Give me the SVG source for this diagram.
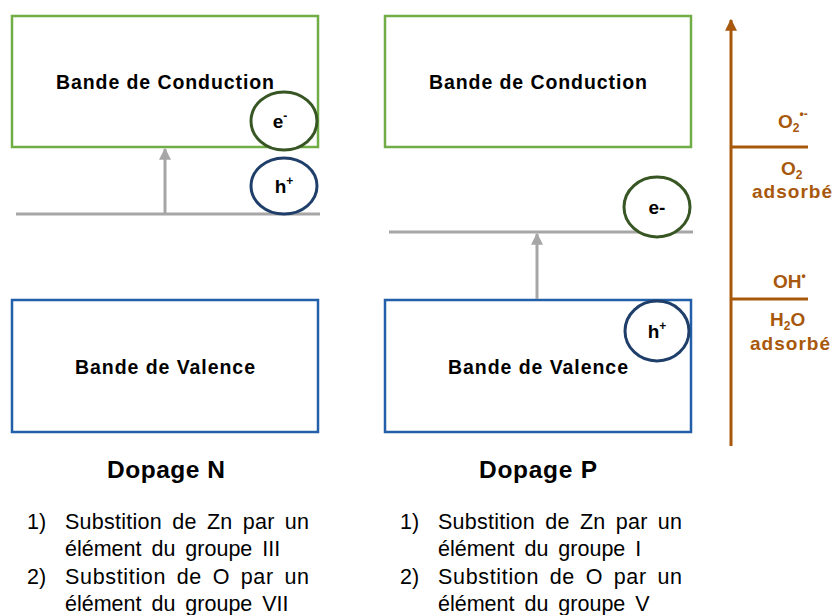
<svg xmlns="http://www.w3.org/2000/svg" width="834" height="615" viewBox="0 0 834 615">
<style>
text{font-family:"Liberation Sans",Arial,sans-serif;fill:#000}
.b{font-weight:bold}
.cb{fill:none;stroke:#70AD47;stroke-width:2.5}
.vb{fill:none;stroke:#2160A8;stroke-width:2.5}
.lvl{stroke:#A6A6A6;stroke-width:3;fill:none}
.ce{fill:#fff;stroke:#375623;stroke-width:3}
.ch{fill:#fff;stroke:#1F3F6A;stroke-width:3}
.or{fill:#A8580C}
.ax{stroke:#A8580C;stroke-width:3;fill:none}
.lst{font-size:21.5px;word-spacing:4px}
</style>
<defs>
<marker id="ag" viewBox="0 0 10 10" refX="9" refY="5" markerWidth="4" markerHeight="4" orient="auto"><path d="M0,0 L10,5 L0,10 z" fill="#A6A6A6"/></marker>
<marker id="ao" viewBox="0 0 10 10" refX="9" refY="5" markerWidth="4" markerHeight="4" orient="auto"><path d="M0,0 L10,5 L0,10 z" fill="#A8580C"/></marker>
</defs>
<g id="n-cb-left"><rect class="cb" x="12" y="16" width="306" height="131"/><text class="b" x="56" y="89" font-size="19.5" textLength="218" lengthAdjust="spacing">Bande de Conduction</text></g>
<g id="n-vb-left"><rect class="vb" x="12" y="300" width="306" height="132"/><text class="b" x="75" y="374" font-size="19.5" textLength="180" lengthAdjust="spacing">Bande de Valence</text></g>
<g id="n-cb-right"><rect class="cb" x="385" y="16" width="306" height="131"/><text class="b" x="429" y="89" font-size="19.5" textLength="218" lengthAdjust="spacing">Bande de Conduction</text></g>
<g id="n-vb-right"><rect class="vb" x="385" y="300" width="306" height="132"/><text class="b" x="448" y="374" font-size="19.5" textLength="180" lengthAdjust="spacing">Bande de Valence</text></g>
<g id="connectors">
<line class="lvl" x1="16" y1="214" x2="320" y2="214"/>
<line class="lvl" x1="165" y1="213" x2="165" y2="149" marker-end="url(#ag)"/>
<line class="lvl" x1="389" y1="232" x2="693" y2="232"/>
<line class="lvl" x1="537" y1="299" x2="537" y2="234" marker-end="url(#ag)"/>
</g>
<g id="n-e-left"><ellipse class="ce" cx="284" cy="121" rx="33" ry="29"/><text class="b" x="280" y="128" font-size="19" text-anchor="middle">e<tspan font-size="12" dy="-8">-</tspan></text></g>
<g id="n-h-left"><ellipse class="ch" cx="284" cy="186" rx="33" ry="28"/><text class="b" x="284" y="193" font-size="19" text-anchor="middle">h<tspan font-size="12" dy="-8">+</tspan></text></g>
<g id="n-e-right"><ellipse class="ce" cx="657" cy="207" rx="33" ry="30"/><text class="b" x="657" y="214" font-size="19" text-anchor="middle">e-</text></g>
<g id="n-h-right"><ellipse class="ch" cx="657" cy="331" rx="32" ry="30"/><text class="b" x="657" y="338" font-size="19" text-anchor="middle">h<tspan font-size="12" dy="-8">+</tspan></text></g>
<g id="n-axis">
<line class="ax" x1="731" y1="446" x2="731" y2="20" marker-end="url(#ao)"/>
<line class="ax" x1="731" y1="147" x2="808" y2="147"/>
<line class="ax" x1="731" y1="299" x2="808" y2="299"/>
<text class="b or" x="778" y="128" font-size="19">O<tspan font-size="12" dy="4">2</tspan><tspan font-size="12" dy="-14">•-</tspan></text>
<text class="b or" x="781" y="175" font-size="19">O<tspan font-size="12" dy="4">2</tspan></text>
<text class="b or" x="792" y="198" font-size="19" text-anchor="middle" textLength="80" lengthAdjust="spacing">adsorbé</text>
<text class="b or" x="773" y="288" font-size="19">OH<tspan font-size="12" dy="-8">•</tspan></text>
<text class="b or" x="770" y="326" font-size="19">H<tspan font-size="12" dy="4">2</tspan><tspan dy="-4">O</tspan></text>
<text class="b or" x="790" y="350" font-size="19" text-anchor="middle" textLength="80" lengthAdjust="spacing">adsorbé</text>
</g>
<g id="n-dopage-n">
<text class="b" x="107" y="478" font-size="24.5" textLength="118" lengthAdjust="spacing">Dopage N</text>
<text class="lst" x="27" y="529">1)</text>
<text class="lst" x="65" y="529" textLength="244" lengthAdjust="spacing">Substition de Zn par un</text>
<text class="lst" x="65" y="556">élément du groupe III</text>
<text class="lst" x="27" y="584">2)</text>
<text class="lst" x="65" y="584" textLength="244" lengthAdjust="spacing">Substition de O par un</text>
<text class="lst" x="65" y="611">élément du groupe VII</text>
</g>
<g id="n-dopage-p">
<text class="b" x="479" y="478" font-size="24.5" textLength="118" lengthAdjust="spacing">Dopage P</text>
<text class="lst" x="400" y="529">1)</text>
<text class="lst" x="438" y="529" textLength="244" lengthAdjust="spacing">Substition de Zn par un</text>
<text class="lst" x="438" y="556">élément du groupe I</text>
<text class="lst" x="400" y="584">2)</text>
<text class="lst" x="438" y="584" textLength="244" lengthAdjust="spacing">Substition de O par un</text>
<text class="lst" x="438" y="611">élément du groupe V</text>
</g>
</svg>
